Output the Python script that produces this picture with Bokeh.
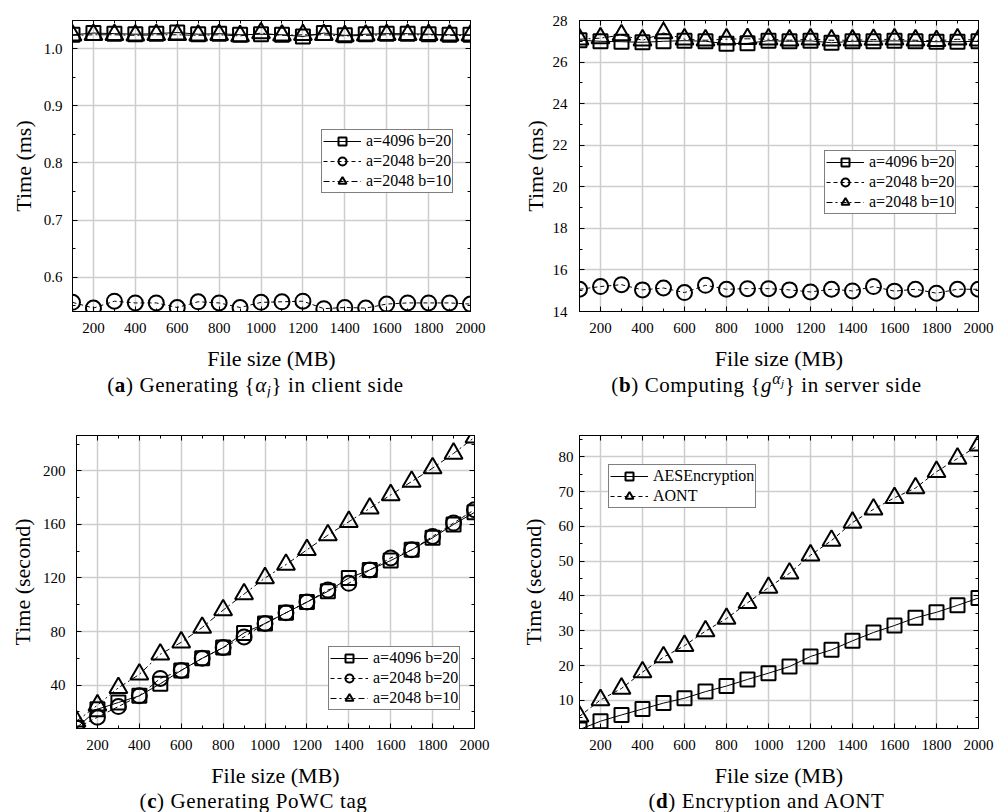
from bokeh.plotting import figure
from bokeh.models import (LinearAxis, FixedTicker, Range1d, Legend, LegendItem,
                          CustomJSTickFormatter, PrintfTickFormatter, Div)
from bokeh.layouts import column, row
from bokeh.embed import file_html
from bokeh.resources import INLINE

# ---------------- data ----------------
file_size = [100, 200, 300, 400, 500, 600, 700, 800, 900, 1000,
             1100, 1200, 1300, 1400, 1500, 1600, 1700, 1800, 1900, 2000]
x_major = [200, 400, 600, 800, 1000, 1200, 1400, 1600, 1800, 2000]
x_minor = [100, 300, 500, 700, 900, 1100, 1300, 1500, 1700, 1900]

# (a) Generating {alpha_j} in client side  (ms)
a_4096_20 = [1.024, 1.027, 1.026, 1.025, 1.026, 1.028, 1.025, 1.026, 1.024, 1.025,
             1.024, 1.021, 1.027, 1.023, 1.025, 1.026, 1.026, 1.025, 1.024, 1.024]
a_2048_20 = [0.556, 0.546, 0.558, 0.555, 0.555, 0.547, 0.557, 0.555, 0.547, 0.556,
             0.557, 0.558, 0.545, 0.547, 0.546, 0.553, 0.555, 0.555, 0.555, 0.553]
a_2048_10 = [1.023, 1.024, 1.024, 1.023, 1.024, 1.024, 1.023, 1.024, 1.022, 1.027,
             1.023, 1.024, 1.024, 1.022, 1.023, 1.024, 1.024, 1.024, 1.023, 1.023]

# (b) Computing {g^alpha_j} in server side (ms)
b_4096_20 = [27.05, 27.0, 26.98, 26.95, 27.0, 27.03, 27.0, 26.88, 26.9, 27.03,
             27.0, 27.02, 26.93, 27.0, 27.0, 27.02, 27.0, 26.98, 26.98, 27.0]
b_2048_20 = [15.07, 15.2, 15.29, 15.04, 15.13, 14.91, 15.26, 15.07, 15.1, 15.1,
             15.04, 14.94, 15.07, 14.99, 15.2, 14.98, 15.07, 14.88, 15.07, 15.07]
b_2048_10 = [27.1, 27.15, 27.3, 27.05, 27.4, 27.1, 27.05, 27.1, 27.12, 27.1,
             27.05, 27.1, 27.05, 27.05, 27.08, 27.1, 27.05, 27.02, 27.1, 27.05]

# (c) Generating PoWC tag (second)
c_4096_20 = [8, 22, 27, 32, 41, 51, 60, 68, 79, 86,
             94, 102, 110, 120, 126, 133, 141, 150, 160, 169]
c_2048_20 = [8, 16, 24, 32, 45, 51, 60, 68, 76, 86,
             94, 102, 111, 116, 126, 135, 141, 151, 161, 171]
c_2048_10 = [13, 25, 38, 48, 63, 72, 83, 96, 108, 120,
             130, 141, 152, 162, 172, 182, 192, 202, 213, 225]

# (d) Encryption and AONT (second)
d_aes = [1.6, 4.0, 5.8, 7.5, 9.2, 10.6, 12.5, 14.1, 16.0, 17.8,
         19.7, 22.6, 24.5, 27.1, 29.5, 31.5, 33.7, 35.3, 37.3, 39.4]
d_aont = [5.4, 10.1, 13.4, 18.1, 22.4, 25.7, 29.9, 33.5, 38.0, 42.4,
          46.5, 51.7, 55.9, 61.1, 64.9, 68.2, 71.0, 75.7, 79.5, 83.3]

labels_abc = ["a=4096 b=20", "a=2048 b=20", "a=2048 b=10"]
labels_d = ["AESEncryption", "AONT"]

SERIF = "'Liberation Serif', 'Times New Roman', serif"


def style_axis(ax):
    ax.axis_line_color = "black"
    ax.axis_line_width = 1
    ax.major_tick_in = 5
    ax.major_tick_out = 0
    ax.minor_tick_in = 3
    ax.minor_tick_out = 0
    ax.major_tick_line_color = "black"
    ax.minor_tick_line_color = "black"
    ax.major_label_text_font = SERIF
    ax.major_label_text_font_size = "15px"
    ax.major_label_text_color = "black"
    ax.axis_label_text_font = SERIF
    ax.axis_label_text_font_size = "22px"
    ax.axis_label_text_font_style = "normal"
    ax.axis_label_text_color = "black"


def make_panel(yr, y_major, y_minor, yfmt, ylabel, series, legend_loc,
               height, borders, ystand, ylab_stand):
    left, right, top, bottom = borders
    p = figure(width=503, height=height, x_range=Range1d(100, 2000),
               y_range=Range1d(*yr), output_backend="svg", toolbar_location=None,
               min_border_left=left, min_border_right=right,
               min_border_top=top, min_border_bottom=bottom,
               background_fill_color="white", border_fill_color="white")
    p.outline_line_color = "black"
    p.outline_line_width = 1
    xt = FixedTicker(ticks=x_major, minor_ticks=x_minor)
    yt = FixedTicker(ticks=y_major, minor_ticks=y_minor)
    p.xaxis.ticker = xt
    p.yaxis.ticker = yt
    p.yaxis.formatter = PrintfTickFormatter(format=yfmt)
    p.xaxis.axis_label = "File size (MB)"
    p.yaxis.axis_label = ylabel
    for ax in p.xaxis + p.yaxis:
        style_axis(ax)
    p.xaxis.major_label_standoff = 11
    p.xaxis.axis_label_standoff = 10
    p.yaxis.major_label_standoff = ystand
    p.yaxis.axis_label_standoff = ylab_stand

    blank = CustomJSTickFormatter(code="return ''")
    top_ax = LinearAxis(ticker=xt, formatter=blank)
    right_ax = LinearAxis(ticker=yt, formatter=blank)
    for ax in (top_ax, right_ax):
        style_axis(ax)
        ax.major_label_standoff = 0
        ax.major_label_text_font_size = "1px"
    p.add_layout(top_ax, "above")
    p.add_layout(right_ax, "right")

    p.xgrid.ticker = xt
    p.ygrid.ticker = yt
    for g in (p.xgrid, p.ygrid):
        g.grid_line_color = "#cdcdcd"
        g.grid_line_width = 1.5

    items = []
    for label, vals, marker, dash, size in series:
        lr = p.line(file_size, vals, line_color="black", line_width=1,
                    line_dash=dash)
        sr = p.scatter(file_size, vals, marker=marker, size=size,
                       line_color="black", line_width=2, fill_alpha=0)
        items.append(LegendItem(label=label, renderers=[lr, sr]))
    leg = Legend(items=items, location=legend_loc)
    leg.label_text_font = SERIF
    leg.label_text_font_size = "16px"
    leg.label_text_color = "black"
    leg.glyph_width = 38
    leg.glyph_height = 20
    leg.label_height = 20
    leg.label_standoff = 5
    leg.spacing = 0
    leg.padding = 1
    leg.margin = 0
    leg.border_line_color = "black"
    leg.border_line_width = 1
    leg.background_fill_color = "white"
    leg.background_fill_alpha = 1
    p.add_layout(leg)
    return p


def abc_series(s1, s2, s3):
    return [(labels_abc[0], s1, "square", "solid", 14),
            (labels_abc[1], s2, "circle", "4 3", 15),
            (labels_abc[2], s3, "triangle", "6 3 2 3", 18)]


# top row: frame y 20..316 ; bottom row (starts at 397): frame y 435..732
pa = make_panel((0.54, 1.049), [0.6, 0.7, 0.8, 0.9, 1.0],
                [0.55, 0.65, 0.75, 0.85, 0.95, 1.05], "%.1f", "Time (ms)",
                abc_series(a_4096_20, a_2048_20, a_2048_10), (249, 118),
                373, (72, 33, 20, 57), 10, 5)
pb = make_panel((14, 28), [14, 16, 18, 20, 22, 24, 26, 28],
                [15, 17, 19, 21, 23, 25, 27], "%d", "Time (ms)",
                abc_series(b_4096_20, b_2048_20, b_2048_10), (245, 97),
                373, (76, 28, 20, 57), 12, 2)
pc = make_panel((7.6, 226.4), [40, 80, 120, 160, 200],
                [20, 60, 100, 140, 180, 220], "%d", "Time (second)",
                abc_series(c_4096_20, c_2048_20, c_2048_10), (252, 18),
                393, (76, 29, 38, 58), 11, 5)
pd = make_panel((1.9, 86.1), [10, 20, 30, 40, 50, 60, 70, 80],
                [5, 15, 25, 35, 45, 55, 65, 75, 85], "%d", "Time (second)",
                [(labels_d[0], d_aes, "square", "solid", 14),
                 (labels_d[1], d_aont, "triangle", "4 3", 18)], (29, 220),
                393, (76, 28, 38, 58), 6, 10)

SUB = '<sub style="font-size:70%;vertical-align:-0.3em;line-height:0"><i>j</i></sub>'


def caption(html, shift, h):
    return Div(text=f'<div style="position:relative;left:{shift}px">{html}</div>',
               width=503, height=h, margin=0,
               styles={"text-align": "center", "font-family": SERIF,
                       "font-size": "21px", "line-height": f"{h}px",
                       "letter-spacing": "0.6px", "color": "black"})


da = caption(f'(<b>a</b>) Generating {{<i>α</i>{SUB}}} in client side', 4, 24)
db = caption('(<b>b</b>) Computing {<i>g</i><sup style="font-size:75%;line-height:0">'
             f'<i>α</i>{SUB}</sup>}} in server side', 12, 24)
dc = caption('(<b>c</b>) Generating PoWC tag', 2, 22)
dd = caption('(<b>d</b>) Encryption and AONT', 12, 22)

layout = column(row(column(pa, da), column(pb, db)),
                row(column(pc, dc), column(pd, dd)))

open("out.html", "w").write(file_html(layout, INLINE))
